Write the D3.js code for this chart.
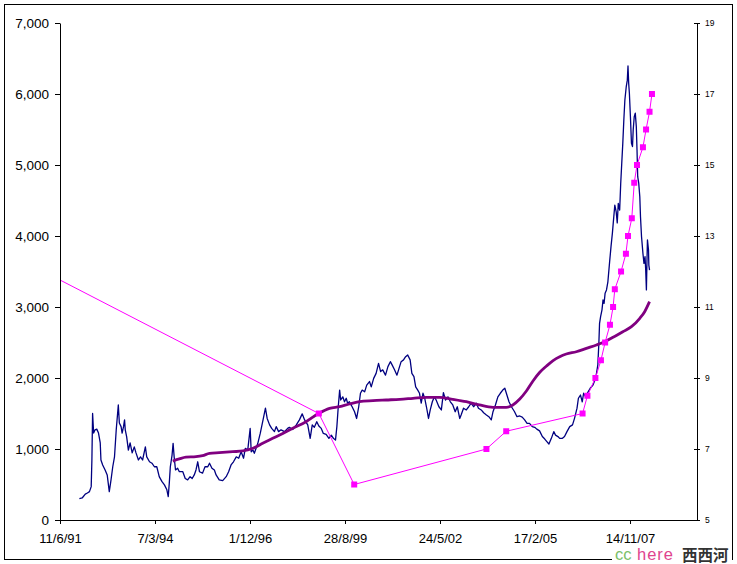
<!DOCTYPE html>
<html>
<head>
<meta charset="utf-8">
<script src="https://cdn.jsdelivr.net/npm/d3@7/dist/d3.min.js"></script>
<style>
  html, body { margin: 0; padding: 0; background: #fff; }
  svg { display: block; }
</style>
</head>
<body>
<svg id="chart" width="737" height="564"></svg>
<script>
// ---------- DATA ----------
// x-axis tick labels (d/m/yy), the axis ends at the last date below
const xTickLabels = ["11/6/91", "7/3/94", "1/12/96", "28/8/99", "24/5/02", "17/2/05", "14/11/07"];
const xAxisEnd = "19/10/09";
const leftTicks = [0, 1000, 2000, 3000, 4000, 5000, 6000, 7000];
const rightTicks = [5, 7, 9, 11, 13, 15, 17, 19];

// Index (dark blue, left axis): decimal year, value
const indexYears = [
1992.00,1992.08,1992.17,1992.23,1992.29,1992.34,1992.36,1992.38,1992.41,1992.45,1992.50,1992.55,1992.60,1992.62,1992.67,1992.74,1992.80,1992.86,1992.91,1992.96,
1993.01,1993.06,1993.12,1993.15,1993.20,1993.23,1993.27,1993.30,1993.32,1993.36,1993.41,1993.46,1993.52,1993.58,1993.63,1993.70,1993.76,1993.82,1993.90,1993.94,
1994.02,1994.09,1994.16,1994.23,1994.30,1994.38,1994.45,1994.52,1994.56,1994.59,1994.62,1994.67,1994.70,1994.73,1994.77,1994.83,1994.88,1994.98,
1995.05,1995.12,1995.19,1995.25,1995.31,1995.36,1995.41,1995.46,1995.55,1995.62,1995.70,1995.75,1995.82,1995.89,1995.94,
1996.03,1996.13,1996.23,1996.30,1996.37,1996.44,1996.52,1996.59,1996.66,1996.73,1996.78,1996.85,1996.92,1996.95,
1997.00,1997.04,1997.09,1997.14,1997.21,1997.27,1997.30,1997.36,1997.41,1997.48,1997.54,1997.62,1997.67,1997.74,1997.81,1997.91,
1998.00,1998.05,1998.15,1998.25,1998.34,1998.42,1998.49,1998.58,1998.65,1998.71,1998.77,1998.84,1998.90,1998.97,
1999.03,1999.11,1999.19,1999.26,1999.32,1999.38,1999.42,1999.46,1999.50,1999.53,1999.59,1999.64,1999.69,1999.73,1999.78,1999.86,1999.93,1999.99,
2000.05,2000.10,2000.15,2000.22,2000.28,2000.36,2000.41,2000.48,2000.55,2000.62,2000.68,2000.74,2000.82,2000.89,2000.96,
2001.01,2001.08,2001.15,2001.21,2001.27,2001.34,2001.40,2001.46,2001.53,2001.58,2001.64,2001.69,2001.75,2001.80,2001.85,2001.90,2001.95,
2002.00,2002.06,2002.11,2002.17,2002.23,2002.28,2002.36,2002.43,2002.49,2002.55,2002.62,2002.69,2002.76,2002.83,2002.89,2002.96,
2003.00,2003.07,2003.15,2003.22,2003.29,2003.36,2003.44,2003.50,2003.58,2003.65,2003.73,2003.80,2003.87,2003.92,2003.99,
2004.06,2004.13,2004.20,2004.26,2004.32,2004.38,2004.45,2004.54,2004.61,2004.69,2004.76,2004.83,2004.90,2004.97,
2005.05,2005.12,2005.18,2005.26,2005.34,2005.41,2005.47,2005.53,2005.60,2005.67,2005.72,2005.79,2005.84,2005.92,2005.98,
2006.05,2006.13,2006.21,2006.27,2006.34,2006.38,2006.44,2006.49,2006.53,2006.59,2006.66,2006.72,2006.80,2006.88,2006.94,2006.97,2006.99,
2007.02,2007.06,2007.09,2007.12,2007.15,2007.19,2007.23,2007.28,2007.32,2007.36,2007.40,2007.43,2007.47,2007.50,2007.53,2007.57,2007.60,2007.63,2007.66,2007.69,2007.72,2007.76,2007.79,2007.81,2007.83,2007.85,2007.88,2007.91,2007.94,2007.96,2007.99,
2008.02,2008.05,2008.07,2008.09,2008.12,2008.15,2008.17,2008.20,2008.24,2008.27,2008.30,2008.32,2008.34,2008.36,2008.37,2008.40,2008.41,2008.43
];
const indexValues = [
300,310,365,380,400,470,845,1500,1225,1270,1280,1225,1085,845,775,705,635,400,565,750,
890,1270,1620,1365,1315,1225,1315,1410,1270,1175,985,1085,945,1030,945,845,890,845,1030,890,
820,800,750,750,610,540,495,425,330,520,750,915,1080,890,705,730,680,680,
585,565,610,585,635,705,820,680,660,750,750,800,730,705,635,
565,555,610,680,775,820,890,870,960,870,1010,985,1290,960,
985,940,1010,1080,1220,1360,1430,1575,1430,1340,1290,1245,1315,1245,1270,1245,
1290,1305,1275,1340,1410,1495,1410,1340,1150,1340,1305,1385,1325,1290,
1220,1205,1150,1195,1150,1125,1315,1595,1830,1690,1735,1665,1715,1645,1665,1595,1525,1430,
1595,1785,1830,1805,1900,1950,1875,1995,2065,2205,2090,2115,2040,2160,2230,
2185,2115,2040,2135,2230,2255,2300,2325,2255,2065,2020,1875,1830,1785,1645,1785,1715,
1595,1430,1550,1665,1735,1690,1595,1550,1795,1690,1735,1665,1620,1525,1595,1430,
1480,1575,1550,1595,1645,1595,1645,1575,1550,1510,1480,1455,1410,1525,1620,
1735,1785,1830,1855,1760,1665,1595,1525,1455,1465,1450,1410,1360,1360,
1315,1305,1280,1255,1175,1140,1105,1070,1150,1245,1195,1175,1150,1150,1175,
1245,1315,1340,1435,1575,1715,1760,1665,1785,1735,1805,1855,1900,2000,2185,2490,2770,
2865,2960,3100,3050,3195,3240,3355,3635,3850,4040,4270,4435,4340,4185,4460,4365,4740,5025,5305,5635,5915,6105,6195,6395,6150,6010,5680,5305,5260,5495,5680,
5730,5540,5210,4835,4740,4555,4270,3990,3755,3615,3710,3520,3240,3730,3945,3805,3590,3520
];

// Smoothed trend (thick purple, left axis)
const trendYears = [1994.69,1994.88,1995.07,1995.36,1995.55,1995.75,1996.03,1996.42,1996.71,1997.00,1997.28,1997.57,1997.86,1998.15,1998.53,1998.90,1999.21,1999.50,1999.78,2000.07,2000.46,2000.84,2001.23,2001.61,2002.00,2002.38,2002.76,2003.15,2003.53,2003.92,2004.30,2004.49,2004.69,2004.88,2005.07,2005.26,2005.46,2005.65,2005.84,2006.03,2006.32,2006.61,2006.90,2007.14,2007.38,2007.66,2007.91,2008.15,2008.29,2008.43];
const trendValues = [830,860,885,892,906,938,948,962,972,1010,1080,1150,1220,1292,1385,1503,1573,1596,1634,1666,1680,1690,1700,1714,1728,1728,1700,1666,1620,1587,1587,1620,1704,1817,1958,2077,2169,2246,2300,2338,2370,2418,2465,2511,2573,2652,2723,2841,2934,3075];

// Step series with square markers (magenta, right axis)
const rateYears = [1988.98,1998.90,1999.92,2003.73,2004.30,2006.50,2006.64,2006.87,2007.03,2007.15,2007.29,2007.38,2007.43,2007.61,2007.75,2007.81,2007.92,2007.99,2008.07,2008.24,2008.33,2008.43,2008.50];
const rateValues = [13,8,6,7,7.5,8,8.5,9,9.5,10,10.5,11,11.5,12,12.5,13,13.5,14.5,15,15.5,16,16.5,17];

// ---------- HELPERS ----------
function parseDMY(s) {
  const [d, m, y] = s.split("/").map(Number);
  return new Date(Date.UTC(y < 50 ? 2000 + y : 1900 + y, m - 1, d));
}
function yearToDate(y) {
  const yr = Math.floor(y);
  const a = Date.UTC(yr, 0, 1), b = Date.UTC(yr + 1, 0, 1);
  return new Date(a + (y - yr) * (b - a));
}

// ---------- LAYOUT ----------
const svg = d3.select("#chart");
const L = 60, R = 697, T = 23, B = 520;
const FONT = "'Liberation Sans', Arial, sans-serif";

svg.append("rect").attr("x", 0).attr("y", 0).attr("width", 737).attr("height", 564).attr("fill", "#fff");
svg.append("rect").attr("x", 4.5).attr("y", 4.5).attr("width", 728).attr("height", 555)
  .attr("fill", "none").attr("stroke", "#000").attr("stroke-width", 1);

const tickDates = xTickLabels.map(parseDMY);
const x = d3.scaleUtc().domain([tickDates[0], parseDMY(xAxisEnd)]).range([L, R]);
const yL = d3.scaleLinear().domain([0, 7000]).range([B, T]);
const yR = d3.scaleLinear().domain([5, 19]).range([B, T]);

svg.append("clipPath").attr("id", "plotclip")
  .append("rect").attr("x", L).attr("y", T - 5).attr("width", R - L).attr("height", B - T + 5);

const plot = svg.append("g").attr("clip-path", "url(#plotclip)");

// Index line
const idxData = indexYears.map((y, i) => [yearToDate(y), indexValues[i]]);
plot.append("path").datum(idxData)
  .attr("fill", "none").attr("stroke", "#000080").attr("stroke-width", 1.3).attr("stroke-linejoin", "round")
  .attr("d", d3.line().x(d => x(d[0])).y(d => yL(d[1])));

// Trend line
const trData = trendYears.map((y, i) => [yearToDate(y), trendValues[i]]);
plot.append("path").datum(trData)
  .attr("fill", "none").attr("stroke", "#800080").attr("stroke-width", 2.8).attr("stroke-linejoin", "round")
  .attr("d", d3.line().curve(d3.curveMonotoneX).x(d => x(d[0])).y(d => yL(d[1])));

// Rate line with markers
const rtData = rateYears.map((y, i) => [yearToDate(y), rateValues[i]]);
plot.append("path").datum(rtData)
  .attr("fill", "none").attr("stroke", "#FF00FF").attr("stroke-width", 1)
  .attr("d", d3.line().x(d => x(d[0])).y(d => yR(d[1])));
plot.selectAll("rect.mk").data(rtData).enter().append("rect").attr("class", "mk")
  .attr("x", d => x(d[0]) - 3).attr("y", d => yR(d[1]) - 3)
  .attr("width", 6).attr("height", 6).attr("fill", "#FF00FF");

// ---------- AXES ----------
const gL = svg.append("g").attr("transform", `translate(${L},0)`)
  .call(d3.axisLeft(yL).tickValues(leftTicks).tickFormat(d3.format(",")).tickSize(5).tickPadding(6).tickSizeOuter(0));
gL.selectAll("text").attr("font-size", 13.5).attr("font-family", FONT).attr("fill", "#000");

const gB = svg.append("g").attr("transform", `translate(0,${B})`)
  .call(d3.axisBottom(x).tickValues(tickDates).tickFormat((d, i) => xTickLabels[i]).tickSize(4).tickPadding(10).tickSizeOuter(0));
gB.selectAll("text").attr("font-size", 13).attr("font-family", FONT).attr("fill", "#000");

const gR = svg.append("g").attr("transform", `translate(${R},0)`)
  .call(d3.axisRight(yR).tickValues(rightTicks).tickSize(3).tickPadding(5).tickSizeOuter(0));
gR.selectAll(".tick line").attr("x1", -3);
gR.selectAll("text").attr("font-size", 8.5).attr("font-family", FONT).attr("fill", "#000");

[gL, gB, gR].forEach(g => {
  g.selectAll("path.domain, .tick line").attr("stroke", "#000");
});

// ---------- WATERMARK ----------
const wm = svg.append("g");
wm.append("rect").attr("x", 612).attr("y", 548).attr("width", 120).attr("height", 16).attr("fill", "#fff");
wm.append("text").attr("x", 615).attr("y", 560).attr("font-family", FONT).attr("font-size", 16.5)
  .attr("fill", "#7cbf6a").text("cc");
wm.append("text").attr("x", 637).attr("y", 560).attr("font-family", FONT).attr("font-size", 16.5)
  .attr("letter-spacing", 1).attr("fill", "#e0448e").text("here");
wm.append("text").attr("x", 682).attr("y", 561).attr("font-family", "'Noto Sans CJK SC', sans-serif")
  .attr("font-size", 15.5).attr("font-weight", 700).attr("fill", "#333").text("西西河");
</script>
</body>
</html>
